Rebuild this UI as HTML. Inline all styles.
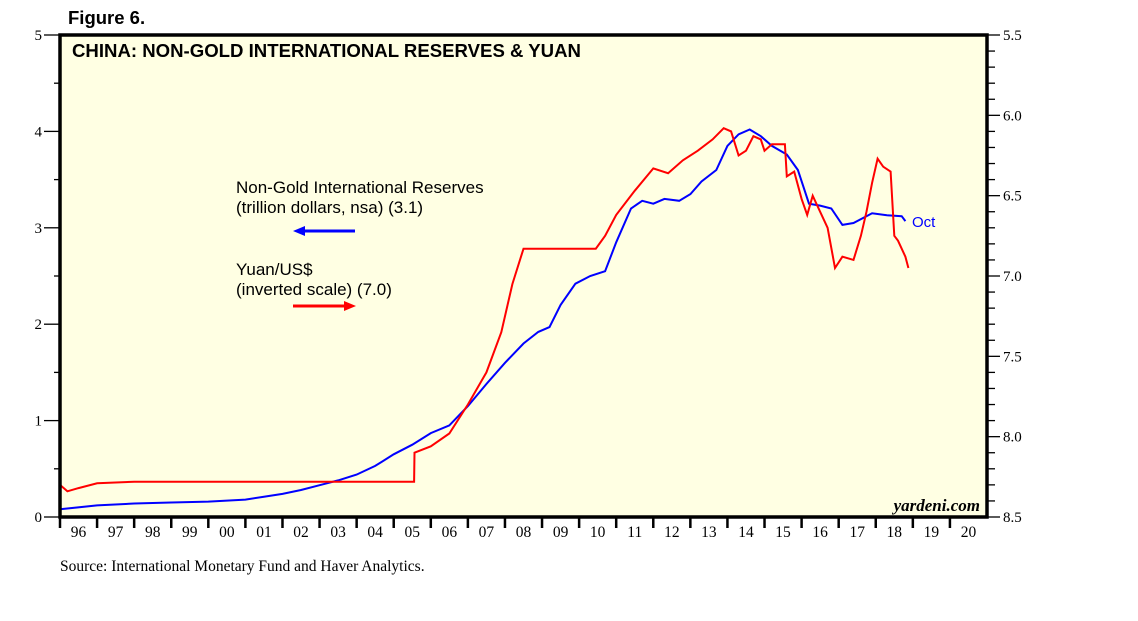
<!DOCTYPE html>
<html><head><meta charset="utf-8"><style>
body{margin:0;background:#fff;}
svg{display:block;font-family:"Liberation Serif",serif;}
</style></head><body>
<svg width="1138" height="621" id="chart">
<text x="68" y="24" font-family="Liberation Sans" font-weight="bold" font-size="18.5" fill="#000">Figure 6.</text>
<rect x="60" y="35" width="927" height="482" fill="#ffffe3"/>
<text x="72" y="57" font-family="Liberation Sans" font-weight="bold" font-size="18.6" fill="#000">CHINA: NON-GOLD INTERNATIONAL RESERVES &amp; YUAN</text>
<g id="axes"></g>
<g id="series"></g>
<rect x="60" y="35" width="927" height="482" fill="none" stroke="#000" stroke-width="3.5"/>
<text x="236" y="193" font-family="Liberation Sans" font-size="17" fill="#000">Non-Gold International Reserves</text>
<text x="236" y="213" font-family="Liberation Sans" font-size="17" fill="#000">(trillion dollars, nsa) (3.1)</text>
<g><line x1="355" y1="231" x2="302" y2="231" stroke="#0000ff" stroke-width="3"/><polygon points="293,231 305,226 305,236" fill="#0000ff"/></g>
<text x="236" y="275" font-family="Liberation Sans" font-size="17" fill="#000">Yuan/US$</text>
<text x="236" y="295" font-family="Liberation Sans" font-size="17" fill="#000">(inverted scale) (7.0)</text>
<g><line x1="293" y1="306" x2="346" y2="306" stroke="#ff0000" stroke-width="3"/><polygon points="356,306 344,301 344,311" fill="#ff0000"/></g>
<text x="912" y="227" font-family="Liberation Sans" font-size="15" fill="#0000ff">Oct</text>
<text x="980" y="511" text-anchor="end" font-style="italic" font-weight="bold" font-size="17" fill="#000">yardeni.com</text>
<text x="60" y="571" font-size="15.5" fill="#000">Source: International Monetary Fund and Haver Analytics.</text>
</svg>
<script>
const years = ["96","97","98","99","00","01","02","03","04","05","06","07","08","09","10","11","12","13","14","15","16","17","18","19","20"];
const leftTicks = [0,1,2,3,4,5];
const rightTicks = ["5.5","6.0","6.5","7.0","7.5","8.0","8.5"];
const reservesT = [1996,1997,1998,1999,2000,2001,2001.5,2002,2002.5,2003,2003.5,2004,2004.5,2005,2005.5,2006,2006.5,2007,2007.5,2008,2008.5,2008.9,2009.2,2009.5,2009.9,2010.3,2010.7,2011.0,2011.4,2011.7,2012.0,2012.3,2012.7,2013.0,2013.3,2013.7,2014.0,2014.3,2014.6,2014.9,2015.2,2015.6,2015.9,2016.2,2016.5,2016.8,2017.1,2017.4,2017.9,2018.3,2018.7,2018.8];
const reservesV = [0.08,0.12,0.14,0.15,0.16,0.18,0.21,0.24,0.28,0.33,0.38,0.44,0.53,0.65,0.75,0.87,0.95,1.15,1.38,1.6,1.8,1.92,1.97,2.2,2.42,2.5,2.55,2.85,3.2,3.28,3.25,3.3,3.28,3.35,3.48,3.6,3.85,3.97,4.02,3.95,3.85,3.76,3.6,3.25,3.23,3.2,3.03,3.05,3.15,3.13,3.12,3.07];
const yuanT = [1996.0,1996.2,1996.5,1997,1998,2005.55,2005.56,2006.0,2006.5,2007.0,2007.5,2007.9,2008.2,2008.5,2008.7,2010.45,2010.7,2011.0,2011.5,2012.0,2012.4,2012.8,2013.2,2013.6,2013.9,2014.1,2014.3,2014.5,2014.7,2014.9,2015.0,2015.2,2015.55,2015.6,2015.8,2016.0,2016.15,2016.3,2016.5,2016.7,2016.9,2017.1,2017.4,2017.6,2017.75,2017.9,2018.05,2018.2,2018.4,2018.5,2018.6,2018.8,2018.88];
const yuanV = [8.30,8.34,8.32,8.29,8.28,8.28,8.10,8.06,7.98,7.8,7.6,7.35,7.05,6.83,6.83,6.83,6.75,6.62,6.47,6.33,6.36,6.28,6.22,6.15,6.08,6.10,6.25,6.22,6.13,6.15,6.22,6.18,6.18,6.38,6.35,6.52,6.62,6.5,6.6,6.7,6.95,6.88,6.9,6.75,6.6,6.42,6.27,6.32,6.35,6.75,6.78,6.88,6.95];

const NS="http://www.w3.org/2000/svg";
const X0=60,X1=987,Y0=35,Y1=517;
const xs=t=>X0+(t-1996)*(X1-X0)/25;
const yL=v=>Y1-v*(Y1-Y0)/5;
const yR=v=>Y0+(v-5.5)*(Y1-Y0)/3;
function mk(tag,attrs,parent){const e=document.createElementNS(NS,tag);for(const k in attrs)e.setAttribute(k,attrs[k]);parent.appendChild(e);return e;}
const axes=document.getElementById('axes'), series=document.getElementById('series');
years.forEach((y,i)=>{
  const l=mk('line',{x1:xs(1996+i),x2:xs(1996+i),y1:Y1,y2:Y1+11,stroke:'#000','stroke-width':2.5},axes);
  
  
  const t=mk('text',{x:xs(1996.5+i),y:Y1+20,'text-anchor':'middle','font-size':15.5,fill:'#000'},axes);
  t.textContent=y;
  
  
});
for(let v=0;v<=5;v+=0.5){
  const maj=Number.isInteger(v);
  const l=mk('line',{x1:maj?44:54,x2:X0,y1:yL(v),y2:yL(v),stroke:'#000','stroke-width':1.3},axes);
  
  
}
leftTicks.forEach(v=>{
  const t=mk('text',{x:42,y:yL(v)+5,'text-anchor':'end','font-size':15,fill:'#000'},axes);
  t.textContent=v;
  
  
});
for(let i=0;i<=30;i++){
  const v=5.5+i*0.1, maj=i%5==0;
  const l=mk('line',{x1:X1,x2:maj?1000:995,y1:yR(v),y2:yR(v),stroke:'#000','stroke-width':1.3},axes);
  
  
}
rightTicks.forEach(s=>{
  const t=mk('text',{x:1003,y:yR(parseFloat(s))+5,'font-size':15,fill:'#000'},axes);
  t.textContent=s;
  
  
});
const pb=mk('polyline',{points:reservesT.map((t,i)=>xs(t).toFixed(1)+','+yL(reservesV[i]).toFixed(1)).join(' '),fill:'none',stroke:'#0000ff','stroke-width':2},series);


const pr=mk('polyline',{points:yuanT.map((t,i)=>xs(t).toFixed(1)+','+yR(yuanV[i]).toFixed(1)).join(' '),fill:'none',stroke:'#ff0000','stroke-width':2},series);


</script>
</body></html>
